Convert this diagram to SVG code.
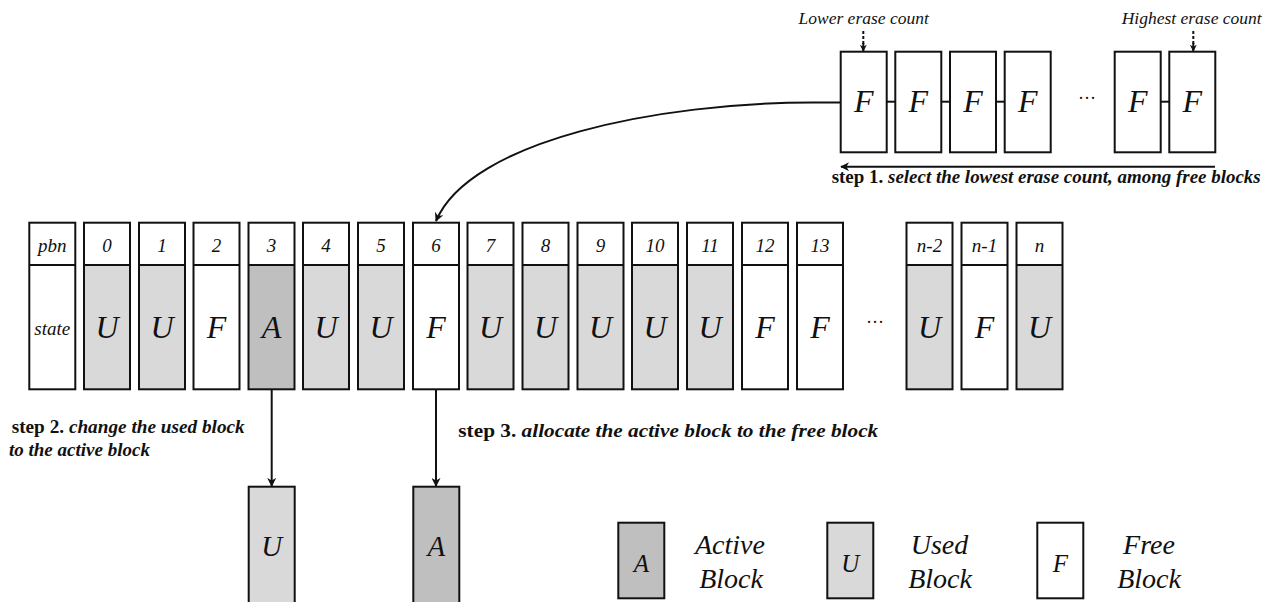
<svg xmlns="http://www.w3.org/2000/svg" width="1276" height="602" viewBox="0 0 1276 602">
<style>
text{font-family:"Liberation Serif","Times New Roman",serif;font-style:italic;fill:#111}
.blk{stroke:#111;stroke-width:2;fill:none}
.u{fill:#d9d9d9}
.a{fill:#bfbfbf}
.f{fill:#fff}
.num{font-size:19px;text-anchor:middle}
.st{font-size:32px;text-anchor:middle}
.lg{font-size:28px;text-anchor:middle}
.step{font-size:19px;font-weight:bold}
.b{font-style:normal}
.con{stroke:#111;stroke-width:2;fill:none}
.dash{stroke:#111;stroke-width:2;fill:none;stroke-dasharray:3 2}
</style>
<defs>
<marker id="ah" viewBox="0 0 10 10" refX="9" refY="5" markerWidth="7" markerHeight="7" markerUnits="userSpaceOnUse" orient="auto-start-reverse">
<path d="M0,0 L10,5 L0,10 L3,5 z" fill="#111"/>
</marker>
<marker id="ah2" viewBox="0 0 10 10" refX="9" refY="5" markerWidth="9" markerHeight="9" markerUnits="userSpaceOnUse" orient="auto-start-reverse">
<path d="M0,0 L10,5 L0,10 L3,5 z" fill="#111"/>
</marker>
</defs>

<!-- free block list -->
<g id="freelist">
<g id="fl0"><rect class="blk f" x="840.7" y="51.7" width="46" height="100.6"/><text class="st" x="863.7" y="111.7">F</text></g>
<g id="fl1"><rect class="blk f" x="895.3" y="51.7" width="46" height="100.6"/><text class="st" x="918.3" y="111.7">F</text></g>
<g id="fl2"><rect class="blk f" x="950" y="51.7" width="46" height="100.6"/><text class="st" x="973" y="111.7">F</text></g>
<g id="fl3"><rect class="blk f" x="1004.7" y="51.7" width="46" height="100.6"/><text class="st" x="1027.7" y="111.7">F</text></g>
<g id="fldots"><text x="1087" y="104" style="font-style:normal;font-size:18px;text-anchor:middle">···</text></g>
<g id="fl4"><rect class="blk f" x="1114.7" y="51.7" width="46" height="100.6"/><text class="st" x="1137.7" y="111.7">F</text></g>
<g id="fl5"><rect class="blk f" x="1169.3" y="51.7" width="46" height="100.6"/><text class="st" x="1192.3" y="111.7">F</text></g>
</g>

<g id="labels-top">
<text x="798.5" y="23.5" style="font-size:17.5px">Lower erase count</text>
<text x="1121.7" y="23.5" style="font-size:17.5px">Highest erase count</text>
<text class="step" x="831.7" y="182.7" textLength="429" lengthAdjust="spacingAndGlyphs"><tspan class="b">step 1.</tspan> select the lowest erase count, among free blocks</text>
</g>

<!-- main table -->
<g id="pbn"><rect class="blk f" x="29.3" y="222.7" width="46" height="166.6"/><line class="blk" x1="29.3" y1="265" x2="75.3" y2="265"/><text class="num" x="52.3" y="251.5">pbn</text><text class="num" x="52.3" y="334.5">state</text></g>
<g id="b0"><rect class="u" x="84" y="265" width="46" height="124.3"/><rect class="blk" x="84" y="222.7" width="46" height="166.6"/><line class="blk" x1="84" y1="265" x2="130" y2="265"/><text class="num" x="107" y="251.5">0</text><text class="st" x="107" y="338">U</text></g>
<g id="b1"><rect class="u" x="139" y="265" width="46" height="124.3"/><rect class="blk" x="139" y="222.7" width="46" height="166.6"/><line class="blk" x1="139" y1="265" x2="185" y2="265"/><text class="num" x="162" y="251.5">1</text><text class="st" x="162" y="338">U</text></g>
<g id="b2"><rect class="f" x="193.5" y="265" width="46" height="124.3"/><rect class="blk" x="193.5" y="222.7" width="46" height="166.6"/><line class="blk" x1="193.5" y1="265" x2="239.5" y2="265"/><text class="num" x="216.5" y="251.5">2</text><text class="st" x="216.5" y="338">F</text></g>
<g id="b3"><rect class="a" x="248.5" y="265" width="46" height="124.3"/><rect class="blk" x="248.5" y="222.7" width="46" height="166.6"/><line class="blk" x1="248.5" y1="265" x2="294.5" y2="265"/><text class="num" x="271.5" y="251.5">3</text><text class="st" x="271.5" y="338">A</text></g>
<g id="b4"><rect class="u" x="303" y="265" width="46" height="124.3"/><rect class="blk" x="303" y="222.7" width="46" height="166.6"/><line class="blk" x1="303" y1="265" x2="349" y2="265"/><text class="num" x="326" y="251.5">4</text><text class="st" x="326" y="338">U</text></g>
<g id="b5"><rect class="u" x="358" y="265" width="46" height="124.3"/><rect class="blk" x="358" y="222.7" width="46" height="166.6"/><line class="blk" x1="358" y1="265" x2="404" y2="265"/><text class="num" x="381" y="251.5">5</text><text class="st" x="381" y="338">U</text></g>
<g id="b6"><rect class="f" x="413" y="265" width="46" height="124.3"/><rect class="blk" x="413" y="222.7" width="46" height="166.6"/><line class="blk" x1="413" y1="265" x2="459" y2="265"/><text class="num" x="436" y="251.5">6</text><text class="st" x="436" y="338">F</text></g>
<g id="b7"><rect class="u" x="467.5" y="265" width="46" height="124.3"/><rect class="blk" x="467.5" y="222.7" width="46" height="166.6"/><line class="blk" x1="467.5" y1="265" x2="513.5" y2="265"/><text class="num" x="490.5" y="251.5">7</text><text class="st" x="490.5" y="338">U</text></g>
<g id="b8"><rect class="u" x="522.5" y="265" width="46" height="124.3"/><rect class="blk" x="522.5" y="222.7" width="46" height="166.6"/><line class="blk" x1="522.5" y1="265" x2="568.5" y2="265"/><text class="num" x="545.5" y="251.5">8</text><text class="st" x="545.5" y="338">U</text></g>
<g id="b9"><rect class="u" x="577.5" y="265" width="46" height="124.3"/><rect class="blk" x="577.5" y="222.7" width="46" height="166.6"/><line class="blk" x1="577.5" y1="265" x2="623.5" y2="265"/><text class="num" x="600.5" y="251.5">9</text><text class="st" x="600.5" y="338">U</text></g>
<g id="b10"><rect class="u" x="632" y="265" width="46" height="124.3"/><rect class="blk" x="632" y="222.7" width="46" height="166.6"/><line class="blk" x1="632" y1="265" x2="678" y2="265"/><text class="num" x="655" y="251.5">10</text><text class="st" x="655" y="338">U</text></g>
<g id="b11"><rect class="u" x="687" y="265" width="46" height="124.3"/><rect class="blk" x="687" y="222.7" width="46" height="166.6"/><line class="blk" x1="687" y1="265" x2="733" y2="265"/><text class="num" x="710" y="251.5">11</text><text class="st" x="710" y="338">U</text></g>
<g id="b12"><rect class="f" x="742" y="265" width="46" height="124.3"/><rect class="blk" x="742" y="222.7" width="46" height="166.6"/><line class="blk" x1="742" y1="265" x2="788" y2="265"/><text class="num" x="765" y="251.5">12</text><text class="st" x="765" y="338">F</text></g>
<g id="b13"><rect class="f" x="797" y="265" width="46" height="124.3"/><rect class="blk" x="797" y="222.7" width="46" height="166.6"/><line class="blk" x1="797" y1="265" x2="843" y2="265"/><text class="num" x="820" y="251.5">13</text><text class="st" x="820" y="338">F</text></g>
<g id="bdots"><text x="875" y="328" style="font-style:normal;font-size:18px;text-anchor:middle">···</text></g>
<g id="bn2"><rect class="u" x="906.5" y="265" width="46" height="124.3"/><rect class="blk" x="906.5" y="222.7" width="46" height="166.6"/><line class="blk" x1="906.5" y1="265" x2="952.5" y2="265"/><text class="num" x="929.5" y="251.5">n-2</text><text class="st" x="929.5" y="338">U</text></g>
<g id="bn1"><rect class="f" x="961.5" y="265" width="46" height="124.3"/><rect class="blk" x="961.5" y="222.7" width="46" height="166.6"/><line class="blk" x1="961.5" y1="265" x2="1007.5" y2="265"/><text class="num" x="984.5" y="251.5">n-1</text><text class="st" x="984.5" y="338">F</text></g>
<g id="bn"><rect class="u" x="1016.5" y="265" width="46" height="124.3"/><rect class="blk" x="1016.5" y="222.7" width="46" height="166.6"/><line class="blk" x1="1016.5" y1="265" x2="1062.5" y2="265"/><text class="num" x="1039.5" y="251.5">n</text><text class="st" x="1039.5" y="338">U</text></g>

<!-- result blocks -->
<g id="resU"><rect class="blk u" x="248.7" y="486.7" width="46" height="120"/><text class="st" x="271.7" y="556" style="font-size:29px">U</text></g>
<g id="resA"><rect class="blk a" x="413.3" y="486.7" width="46" height="120"/><text class="st" x="436.3" y="556" style="font-size:29px">A</text></g>

<g id="steps">
<text class="step" x="11.7" y="433" textLength="233" lengthAdjust="spacingAndGlyphs"><tspan class="b">step 2.</tspan> change the used block</text>
<text class="step" x="9" y="456">to the active block</text>
<text class="step" x="458.3" y="437.3" textLength="420" lengthAdjust="spacingAndGlyphs"><tspan class="b">step 3.</tspan> allocate the active block to the free block</text>
</g>

<!-- legend -->
<g id="legA"><rect class="blk a" x="618.3" y="522.7" width="46" height="75.6"/><text class="st" x="641.3" y="571.7" style="font-size:25px">A</text><text class="lg" x="730" y="554">Active</text><text class="lg" x="731" y="588.3">Block</text></g>
<g id="legU"><rect class="blk u" x="827.3" y="522.7" width="46" height="75.6"/><text class="st" x="850.3" y="571.7" style="font-size:25px">U</text><text class="lg" x="939.5" y="554">Used</text><text class="lg" x="940" y="588.3">Block</text></g>
<g id="legF"><rect class="blk f" x="1037.3" y="522.7" width="46" height="75.6"/><text class="st" x="1060.3" y="571.7" style="font-size:25px">F</text><text class="lg" x="1149" y="554">Free</text><text class="lg" x="1149" y="588.3">Block</text></g>

<!-- connectors -->
<g id="connectors">
<line class="con" x1="886.7" y1="101.7" x2="895.3" y2="101.7"/>
<line class="con" x1="941.3" y1="101.7" x2="950" y2="101.7"/>
<line class="con" x1="996" y1="101.7" x2="1004.7" y2="101.7"/>
<line class="con" x1="1160.7" y1="101.7" x2="1169.3" y2="101.7"/>
<path class="dash" d="M863.3,31 L863.3,44"/>
<line class="con" x1="863.3" y1="43" x2="863.3" y2="51" marker-end="url(#ah)"/>
<path class="dash" d="M1193.3,31 L1193.3,44"/>
<line class="con" x1="1193.3" y1="43" x2="1193.3" y2="51" marker-end="url(#ah)"/>
<line class="con" x1="1215" y1="166.7" x2="841" y2="166.7" marker-end="url(#ah2)"/>
<path class="con" d="M840.7,102.5 L813,102.5 C660,102.5 470,140 436,221" marker-end="url(#ah2)"/>
<line class="con" x1="271.7" y1="390" x2="271.7" y2="486" marker-end="url(#ah2)"/>
<line class="con" x1="436" y1="390" x2="436" y2="486" marker-end="url(#ah2)"/>
</g>
</svg>
